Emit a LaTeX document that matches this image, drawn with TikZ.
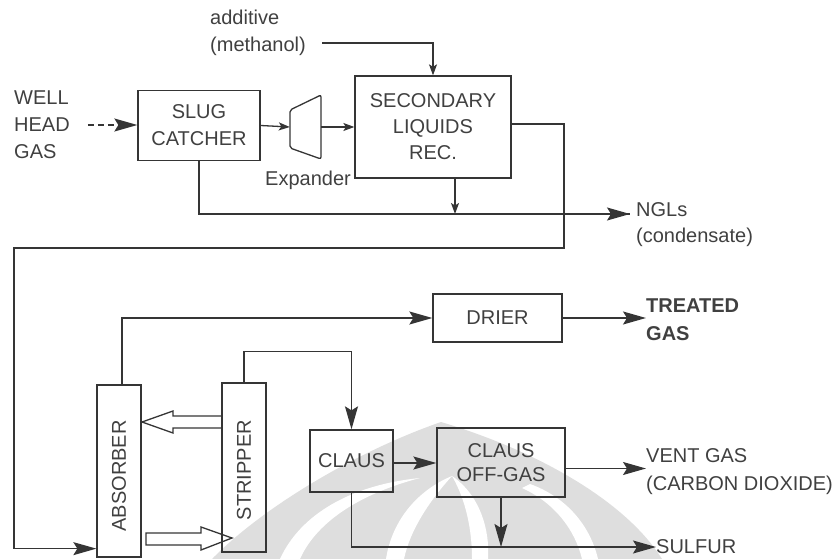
\documentclass[tikz,border=0pt]{standalone}
\usepackage{fontspec}
\setmainfont{Liberation Sans}
\usetikzlibrary{arrows.meta,calc}
\definecolor{lc}{HTML}{353535}
\definecolor{tc}{HTML}{404040}
\definecolor{wm}{HTML}{DEDEDE}
\newcommand\dfont{\fontsize{20}{27}\selectfont}
\newcommand\dfontb[1]{\fontsize{20}{#1}\selectfont}
\begin{document}
\begin{tikzpicture}[x=1pt,y=-1pt,
  ln/.style={draw=lc,line width=1.3pt},
  arr/.style={ln,-{Stealth[length=23pt,width=13pt,inset=4pt]}},
  sarr/.style={ln,-{Stealth[length=11pt,width=8pt,inset=2.5pt]}},
  box/.style={draw=lc,line width=1.3pt,inner sep=0pt,text=tc,font=\dfont,align=center},
  txt/.style={inner sep=0pt,text=tc,font=\dfont,align=left},
]
\useasboundingbox (0,0) rectangle (840,559);
% faint watermark
\fill[wm] (212,559) .. controls (265,505) and (360,450) .. (441,422)
  .. controls (535,450) and (625,500) .. (662,559) -- cycle;
\fill[white] (280,559) .. controls (300,515) and (350,485) .. (420,478)
  .. controls (355,495) and (315,525) .. (300,559) -- cycle;
\fill[white] (386,559) .. controls (392,520) and (418,490) .. (452,476)
  .. controls (430,500) and (410,530) .. (404,559) -- cycle;
\fill[white] (452,476) .. controls (480,495) and (490,530) .. (488,559)
  -- (472,559) .. controls (472,530) and (466,500) .. (452,476) -- cycle;
\fill[white] (522,488) .. controls (555,503) and (575,530) .. (582,559)
  -- (598,559) .. controls (590,525) and (566,497) .. (530,484) -- cycle;

% boxes
\node[box,minimum width=122pt,minimum height=70pt] (SLUG) at (199,125.5) {SLUG\\CATCHER};
\node[box,minimum width=156pt,minimum height=102pt,font={\dfontb{26}}] (SEC) at (433,127) {SECONDARY\\LIQUIDS\\REC.};
\node[box,minimum width=129pt,minimum height=48pt] (DRIER) at (497.5,318) {DRIER};
\node[box,minimum width=44pt,minimum height=172pt] (ABS) at (119,471) {};
\node[box,minimum width=44pt,minimum height=169pt] (STR) at (244,467.5) {};
\node[txt,rotate=90] (ABSt) at (119,476) {ABSORBER};
\node[txt,rotate=90] (STRt) at (244,470) {STRIPPER};
\node[box,minimum width=83pt,minimum height=62pt] (CLAUS) at (351.5,461) {CLAUS};
\node[box,minimum width=128pt,minimum height=69pt,font={\dfontb{24}}] (OFF) at (501,462.5) {CLAUS\\OFF-GAS};

% expander
\node[minimum width=31pt,minimum height=64pt,inner sep=0pt] (EXP) at (305.5,127) {};
\draw[ln,rounded corners=2pt] (290,110) -- (321,95) -- (321,159) -- (290,148) -- cycle;
\node[txt] (explab) at (308,180) {Expander};

% texts
\node[txt,anchor=west] (wh) at (14,125) {WELL\\HEAD\\GAS};
\node[txt,anchor=west] (add) at (210,33) {additive\\(methanol)};
\node[txt,anchor=west,font={\dfontb{26}}] (ngl) at (636,225) {NGLs\\(condensate)};
\node[txt,anchor=west,font={\dfontb{28}\bfseries}] (tg) at (646,320) {TREATED\\GAS};
\node[txt,anchor=west,font={\dfontb{28}}] (vent) at (646,472) {VENT GAS\\(CARBON DIOXIDE)};
\node[txt,anchor=west] (sul) at (656,547) {SULFUR};

% coordinates
\coordinate (m0) at (322,43);
\coordinate (nglin) at (630,214);
\coordinate (r1) at (564,248);
\coordinate (r2) at (14,248);

% connectors
\draw[arr,dash pattern=on 6pt off 4pt] ([xshift=18pt]wh.east) -- (wh.east -| SLUG.west);
\draw[sarr] (SLUG.east) -- (EXP.west);
\draw[sarr] (EXP.east) -- (EXP.east -| SEC.west);
\draw[sarr] (m0) -| (SEC.north);
\draw[ln] (SLUG.south) |- (nglin);
\draw[arr] ($(nglin)+(-30,0)$) -- (nglin);
\draw[sarr] ([xshift=22pt]SEC.south) -- ([xshift=22pt]SEC.south |- nglin);
\draw[arr] ([yshift=3pt]SEC.east) -| (r1) -- (r2) |- ([yshift=9pt]ABS.south west);
\draw[arr] ([xshift=3pt]ABS.north) |- (DRIER.west);
\draw[arr] (DRIER.east) -- (DRIER.east -| tg.west);
\draw[arr] (STR.north) -- ++(0,-31) -| (CLAUS.north);
\draw[arr] ([yshift=-2pt]CLAUS.east) -- ([yshift=-2pt]CLAUS.east -| OFF.west);
\draw[arr] ([yshift=-6pt]OFF.east) -- ([yshift=-6pt]OFF.east -| vent.west);
\draw[arr] (CLAUS.south) |- (sul.west);
\draw[arr] (OFF.south) -- (OFF.south |- sul.west);

% hollow arrows
\draw[ln] (222,416) -- (173,416) -- (173,411) -- (142,422) -- (173,433) -- (173,428) -- (222,428);
\draw[ln] (146,533) -- (201,533) -- (201,527) -- (232,538) -- (201,550) -- (201,545) -- (146,545) -- cycle;
\end{tikzpicture}
\end{document}
